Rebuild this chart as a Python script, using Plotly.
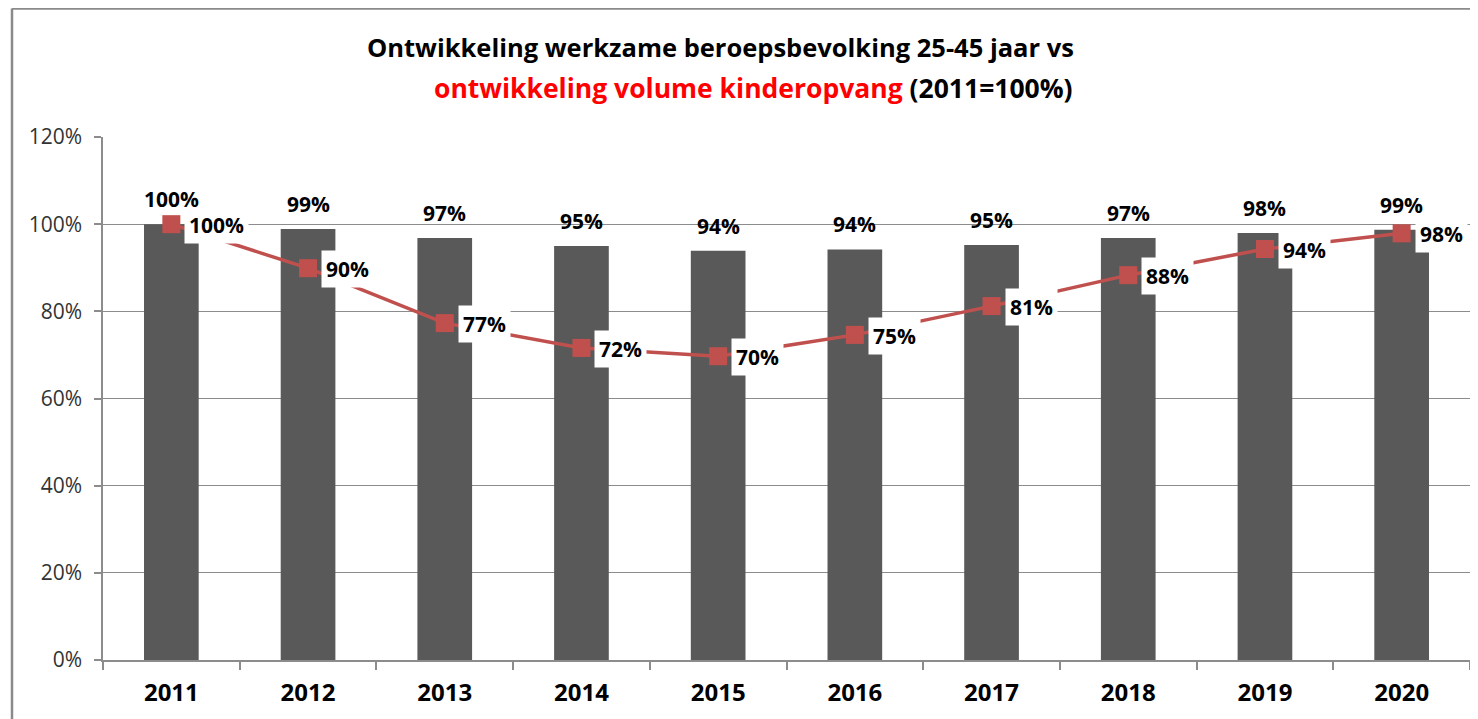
import plotly.graph_objects as go

years = ["2011", "2012", "2013", "2014", "2015", "2016", "2017", "2018", "2019", "2020"]
workforce = [100, 98.9, 96.8, 95.0, 93.9, 94.2, 95.2, 96.8, 98.0, 98.7]
childcare = [100, 89.9, 77.3, 71.6, 69.7, 74.6, 81.2, 88.3, 94.3, 97.9]
y_ticks = [0, 20, 40, 60, 80, 100, 120]
y_tick_labels = ["0%", "20%", "40%", "60%", "80%", "100%", "120%"]

FONT = "Open Sans"
GRID = "#8c8c8c"

# figure geometry (page body adds an 8px offset)
W, H = 1470, 711
ML, MR, MT, MB = 95, 8, 129, 59
PW, PH = W - ML - MR, H - MT - MB


def px(x):
    return (x - ML) / PW


def py(y):
    return 1 + (MT - y) / PH


fig = go.Figure()
fig.add_trace(go.Bar(
    x=years, y=workforce, marker=dict(color="#595959", line=dict(width=0)),
    width=0.4, name="werkzame beroepsbevolking 25-45 jaar", hoverinfo="y",
))
fig.add_trace(go.Scatter(
    x=years, y=childcare, mode="lines+markers",
    line=dict(color="#C0504D", width=3.5),
    marker=dict(symbol="square", size=18, color="#C0504D"),
    name="volume kinderopvang", cliponaxis=False,
))

annotations = []
for i, v in enumerate(childcare):
    annotations.append(dict(
        x=i, y=v, xref="x", yref="y", text=f"<b>{round(v)}%</b>",
        showarrow=False, xanchor="left", yanchor="middle", xshift=13, yshift=-1,
        bgcolor="#ffffff", borderpad=4,
        font=dict(family=FONT, size=21, color="#000000"),
    ))
for i, v in enumerate(workforce):
    annotations.append(dict(
        x=i, y=v, xref="x", yref="y", text=f"<b>{round(v)}%</b>",
        showarrow=False, xanchor="center", yanchor="bottom", yshift=9,
        font=dict(family=FONT, size=21, color="#000000"),
    ))

annotations.append(dict(
    x=px(712), y=py(39), xref="paper", yref="paper",
    text="<b>Ontwikkeling werkzame beroepsbevolking 25-45 jaar vs</b>",
    showarrow=False, xanchor="center", yanchor="middle",
    font=dict(family=FONT, size=25.5, color="#000000"),
))
annotations.append(dict(
    x=px(745), y=py(80), xref="paper", yref="paper",
    text="<b><span style='color:#FF0000'>ontwikkeling volume kinderopvang</span> (2011=100%)</b>",
    showarrow=False, xanchor="center", yanchor="middle",
    font=dict(family=FONT, size=26.5, color="#000000"),
))

shapes = [
    dict(type="line", xref="paper", yref="paper",
         x0=px(4), x1=1.1, y0=py(0.5), y1=py(0.5),
         line=dict(color="#8a8a8a", width=2.5)),
    dict(type="line", xref="paper", yref="paper",
         x0=px(4), x1=px(4), y0=-0.5, y1=py(0.5),
         line=dict(color="#8a8a8a", width=2.5)),
]

fig.update_layout(
    width=W, height=H,
    margin=dict(l=ML, r=MR, t=MT, b=MB),
    paper_bgcolor="#ffffff", plot_bgcolor="#ffffff",
    showlegend=False,
    annotations=annotations, shapes=shapes,
    xaxis=dict(
        type="category", range=[-0.5, 9.5],
        showgrid=False, showline=True, linecolor=GRID, linewidth=1.5,
        ticks="outside", tickson="boundaries", ticklen=8, tickcolor=GRID, tickwidth=1.5,
        ticklabelstandoff=10,
        tickfont=dict(family=FONT, size=24, color="#000000", weight="bold"),
        zeroline=False,
    ),
    yaxis=dict(
        range=[0, 120], tickvals=y_ticks, ticktext=y_tick_labels,
        showgrid=True, gridcolor=GRID, gridwidth=1.2,
        showline=True, linecolor=GRID, linewidth=1.5,
        ticks="outside", ticklen=7, tickcolor=GRID, tickwidth=1.5,
        ticklabelstandoff=8,
        tickfont=dict(family=FONT, size=21, color="#333333"),
        zeroline=False,
    ),
    font=dict(family=FONT),
)

fig.write_html("out.html")
